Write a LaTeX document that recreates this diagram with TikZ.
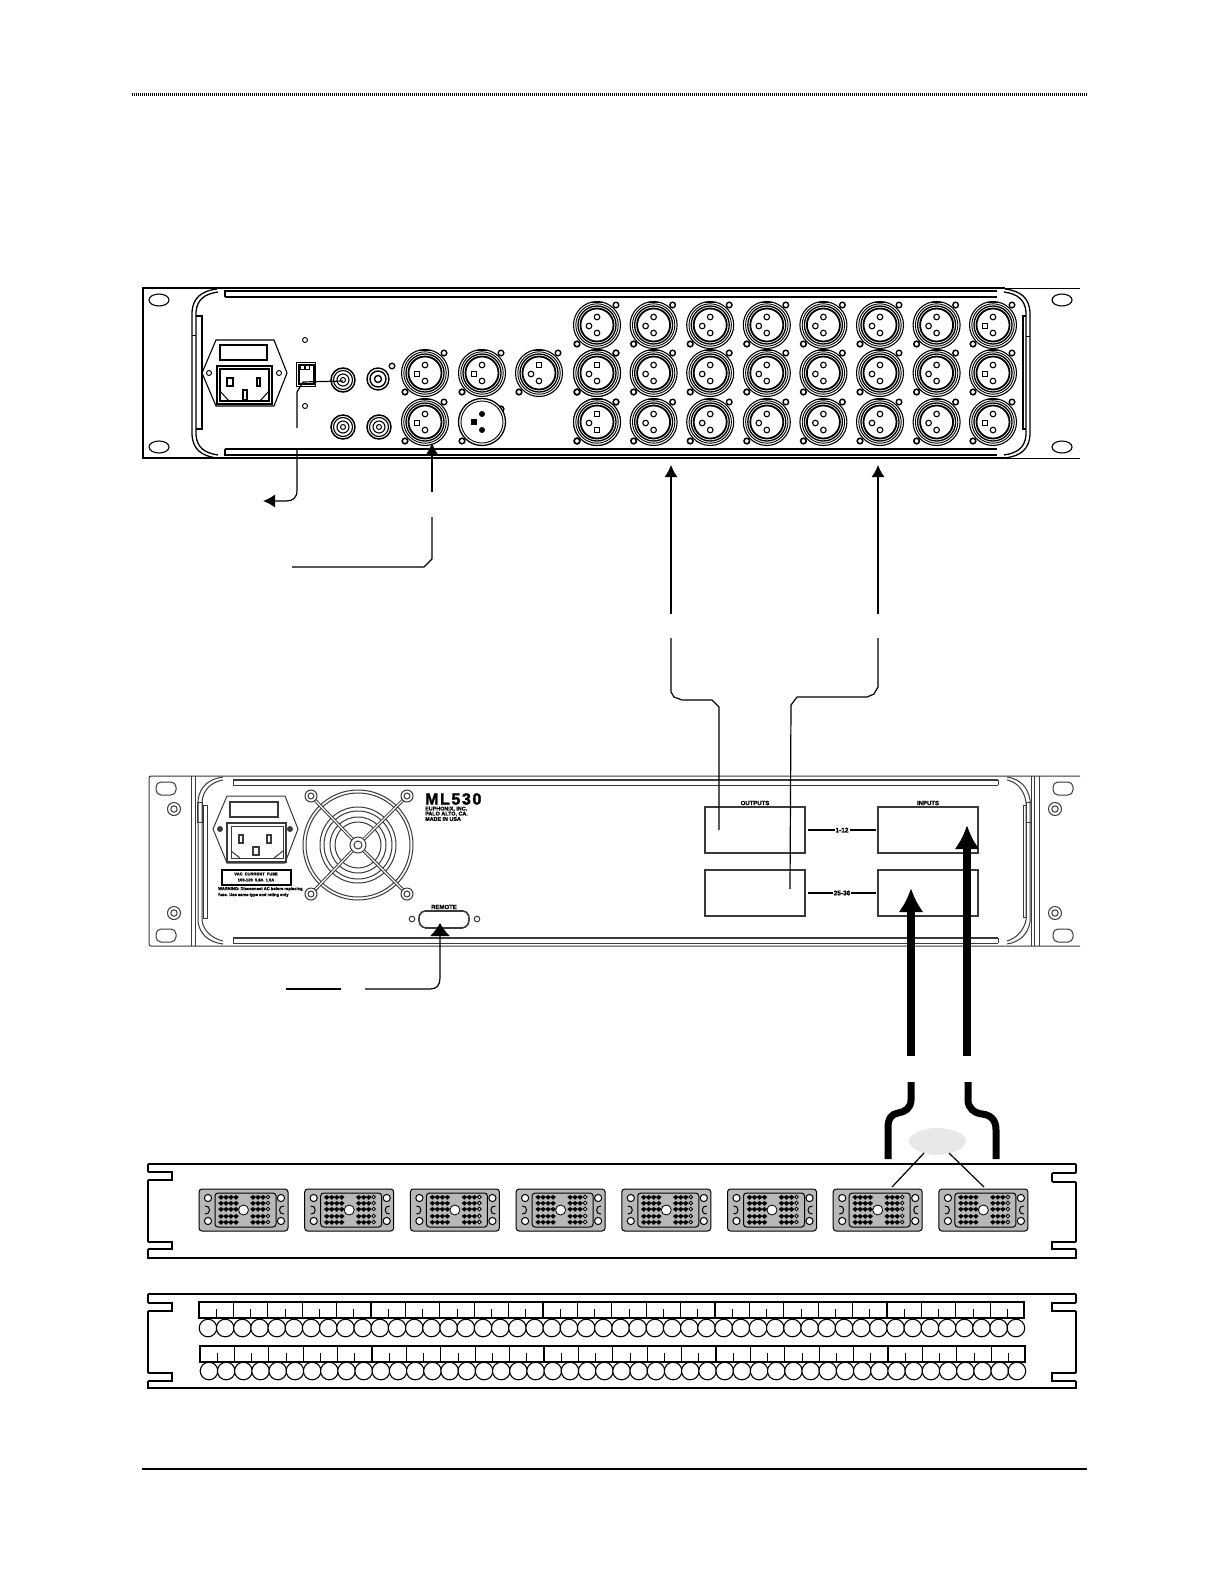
\documentclass[tikz,border=0pt]{standalone}
\usepackage{fontspec}
\setmainfont{Liberation Sans}
\usetikzlibrary{arrows.meta,calc}
\definecolor{panelgray}{HTML}{3A3A3A}
\definecolor{conngray}{HTML}{B8B8B8}
\definecolor{blobgray}{HTML}{E8E8E8}
\newcommand\heavytxt[1]{\fontsize{#1}{#1}\selectfont\bfseries\addfontfeature{FakeBold=1.5}}
\tikzset{
  thinln/.style={line width=0.9pt,black},
  medln/.style={line width=1.4pt,black},
  curveln/.style={line width=1.3pt,black},
  rk/.style={line width=1pt,panelgray},
  leader/.style={line width=1.2pt,black,line join=round},
  leadarrow/.style={leader,-{Latex[length=12pt,width=13pt]}},
  heavy/.style={line width=8pt,black,line join=round},
  heavyarrow/.style={heavy,-{Latex[length=24pt,width=25pt]}},
  patchbox/.style={draw=panelgray,line width=2pt,minimum width=100pt,minimum height=46pt,inner sep=0pt,fill=white},
  tinytxt/.style={font=\heavytxt{6},inner sep=0pt,text=black},
  microtxt/.style={font=\heavytxt{4.1},inner sep=0pt,text=black},
  linklabel/.style={font=\heavytxt{6.5},inner sep=1pt,fill=white},
}
% XLR connector: x, y, top, left, bottom pin (0 round, 1 square, 2 black)
\newcommand\xpin[3]{%
  \ifnum#3=0 \draw[line width=1.1pt,fill=white] (#1,#2) circle (2.8pt);\fi
  \ifnum#3=1 \draw[line width=1.3pt,fill=white] (#1-2.6,#2-2.6) rectangle (#1+2.6,#2+2.6);\fi
  \ifnum#3=2 \fill (#1,#2) circle (3pt);\fi
  \ifnum#3=3 \fill (#1-3,#2-3) rectangle (#1+3,#2+3);\fi}
\newcommand\xlrc[5]{%
  \draw[line width=1.4pt,fill=white] (#1+19,#2-20) circle (2.8pt);
  \draw[line width=1.6pt,fill=white] (#1-20,#2+19) circle (2.8pt);
  \draw[line width=1.1pt,fill=white] (#1,#2) circle (23.5pt);
  \draw[line width=0.9pt] (#1,#2) circle (21.2pt);
  \draw[line width=1.3pt] (#1,#2) circle (19pt);
  \draw[line width=1.8pt] (#1,#2) circle (16.5pt);
  \draw[line width=1.2pt] (#1-7,#2-22.5) -- (#1+7,#2-22.5);
  \xpin{#1}{#2-8}{#3}\xpin{#1-8}{#2+1}{#4}\xpin{#1}{#2+8}{#5}}
\newcommand\bncc[2]{%
  \draw[line width=1.5pt,fill=white] (#1,#2) circle (12pt);
  \draw[line width=1.1pt] (#1,#2) circle (9.5pt);
  \draw[line width=1.1pt] (#1,#2) circle (6pt);
  \draw[line width=1pt] (#1,#2) circle (2.5pt);}
\newcommand\iecsock[2]{% x,y = socket top left, 55 x 38
  \draw[line width=1.2pt] (#1,#2) rectangle +(55,38);
  \draw[line width=1.2pt] (#1+3,#2+3) rectangle +(49,32);
  \draw[line width=1pt] (#1+3,#2+25) -- (#1+12,#2+35) (#1+52,#2+25) -- (#1+43,#2+35);}
% multi-pin connector
\newcommand\connb[1]{%
  \draw[line width=1pt,fill=conngray,rounded corners=3pt] (#1,1189) rectangle +(89,42);
  \draw[line width=1pt,fill=conngray,rounded corners=3pt] (#1+16,1193) rectangle +(61,34);
  \foreach \hx in {9,82}{
    \draw[line width=1pt,fill=white] (#1+\hx,1198) circle (3.6pt);
    \draw[line width=1pt,fill=white] (#1+\hx,1221) circle (3.6pt);}
  \draw[line width=1pt] (#1+6,1206) .. controls (#1+12,1205) and (#1+12,1215) .. (#1+6,1214);
  \draw[line width=1pt] (#1+85,1206) .. controls (#1+79,1205) and (#1+79,1215) .. (#1+85,1214);
  \foreach \px/\col in {22/0,27/3,32/1,37/2,54/0,59/1,64/3,69/2}{
    \foreach \py [count=\ri] in {1197,1203,1209,1216,1222}{
      \pgfmathtruncatemacro\mm{mod(\px+\ri*3+\col,3)}
      \ifnum\mm<2
        \fill (#1+\px-2.8,\py) -- (#1+\px,\py-2) -- (#1+\px+2.8,\py) -- (#1+\px,\py+2.8) -- cycle;
      \else
        \draw[line width=0.9pt,fill=white] (#1+\px,\py) circle (1.8pt);
      \fi}}
  \draw[line width=0.8pt,fill=white] (#1+44.5,1210) circle (5pt);}
% patch strip: x, y of strip top, y of circle centre
\newcommand\jackrow[3]{%
  \draw[line width=1.2pt] (#1,#2) rectangle (#1+825,#2+16);
  \foreach \i in {0,...,23}{
    \pgfmathsetmacro\dx{#1+34.4*\i}
    \pgfmathsetmacro\tx{#1+17.2+34.4*\i}
    \draw[line width=1.3pt] (\dx,#2) -- (\dx,#2+16);
    \draw[line width=1pt] (\tx,#2+7) -- (\tx,#2+16);}
  \foreach \i in {0,...,47}{
    \pgfmathsetmacro\cx{#1+9+17.19*\i}
    \draw[line width=1.1pt,fill=white] (\cx,#3) circle (8.8pt);}}
\begin{document}
\begin{tikzpicture}[x=1pt,y=-1pt]
\useasboundingbox (0,0) rectangle (1224,1584);
\fill[white] (0,0) rectangle (1224,1584);
% page rules
\coordinate (hdA) at (132,95); \coordinate (hdB) at (1087,95);
\draw[line width=3pt,dash pattern=on 1pt off 1pt] (hdA) -- (hdB);
\coordinate (ftA) at (142,1469); \coordinate (ftB) at (1087,1469);
\draw[line width=1.5pt] (ftA) -- (ftB);

% ===== Rack 1 =====
\draw[line width=1.8pt] (1005,288) -- (143,288) -- (143,458) -- (1005,458);
\draw[thinln] (1080,288) -- (1005,288) (1080,458) -- (1005,458);
\draw[line width=1.6pt] (225,297) -- (225,291) -- (997,291) (225,297) -- (997,297);
\draw[line width=1.6pt] (225,449) -- (225,455) -- (997,455) (225,449) -- (997,449);
\foreach \hy in {300,447}{
  \draw[line width=1.1pt] (159,\hy) ellipse (10pt and 6pt);
  \draw[line width=1.1pt] (1062,\hy) ellipse (10pt and 6pt);}
\draw[curveln] (217,289) .. controls (201,291) and (193,298) .. (192,312) -- (192,435) .. controls (193,449) and (201,456) .. (217,458);
\draw[curveln] (218,292) .. controls (204,294) and (197,300) .. (196,312) -- (196,435) .. controls (197,447) and (204,453) .. (218,455);
\draw[medln] (196,316) -- (202,316) -- (202,429) -- (196,429);
\draw[thinln] (192,335) -- (196,335);
\draw[curveln] (1005,289) .. controls (1021,291) and (1029,298) .. (1030,312) -- (1030,435) .. controls (1029,449) and (1021,456) .. (1005,458);
\draw[curveln] (1004,292) .. controls (1018,294) and (1025,300) .. (1026,312) -- (1026,435) .. controls (1025,447) and (1018,453) .. (1004,455);
\draw[medln] (1026,316) -- (1023,316) -- (1023,429) -- (1026,429);
\draw[thinln] (1026,336) -- (1030,336);
% IEC inlet
\draw[line width=1.1pt] (216,340) -- (274,340) -- (287,373) -- (274,406) -- (216,406) -- (202,373) -- cycle;
\draw[line width=1.6pt] (220,345) rectangle (267,360);
\iecsock{217}{366}
\draw[line width=1.2pt] (227,378) rectangle (233,386) (257,378) rectangle (260,386) (243,390) rectangle (247,400);
\draw[thinln] (209,373) circle (2.5pt) (279,373) circle (2.5pt);
% switch
\draw[thinln] (305,340) circle (2.5pt) (305,406) circle (2.5pt);
\draw[line width=1pt] (296,362) rectangle (315,386);
\draw[line width=1.4pt] (299,365) rectangle (314,384);
\draw[line width=0.8pt,fill=white] (300,365) rectangle (304,369) (305,365) rectangle (309,369);
% BNCs
\bncc{343}{380}
\draw[line width=1.4pt] (378,379) circle (11pt) (378,379) circle (8pt) (378,379) circle (3.5pt);
\bncc{343}{427}\bncc{379}{427}
\draw[line width=1.3pt] (392,366) circle (2.8pt);
% sync wire
\coordinate (swA) at (297,428); \coordinate (swB) at (343,381);
\draw[leader] (swA) -- (297,392) -- (303,382) -- (swB);
% audio XLRs
\xlrc{425}{373}{0}{1}{0}\xlrc{482}{373}{0}{1}{0}\xlrc{539}{373}{1}{0}{0}
\xlrc{425}{422}{0}{1}{0}
\draw[line width=1.5pt,fill=white] (501,409) circle (2.8pt);
\draw[line width=1.5pt,fill=white] (462,441) circle (2.8pt);
\draw[line width=1.3pt,fill=white] (482,422) circle (23.5pt);
\draw[line width=0.9pt] (482,422) circle (21pt);
\xpin{482}{414}{2}\xpin{474}{422}{3}\xpin{482}{430}{2}
% 24 XLRs
\foreach \gx in {597,653.6,710.2,766.8,823.4,880,936.6}{
  \foreach \gy in {325,373,422}{
    \xlrc{\gx}{\gy}{0}{0}{0}}}
\xlrc{597}{373}{1}{0}{0}
\xlrc{597}{422}{1}{0}{1}
\foreach \gy in {325,373,422}{\xlrc{993}{\gy}{0}{1}{0}}

% ===== Rack 2 =====
\draw[rk] (1080,776) -- (152,776) [rounded corners=2pt] -- (149,776) -- (149,946) -- (1080,946);
\draw[rk] (233,780) -- (998,780) (233,785) -- (998,785) (233,780) -- (233,785) (998,780) -- (998,785);
\draw[line width=1.6pt,panelgray] (233,780) -- (998,780);
\draw[rk] (233,938) -- (998,938) (233,943) -- (998,943) (233,938) -- (233,943) (998,938) -- (998,943);
\draw[line width=1.6pt,panelgray] (233,938) -- (998,938);
\draw[rk] (191,776) -- (191,946) (195,776) -- (195,946);
\draw[rk] (1031,776) -- (1031,946) (1034,776) -- (1034,946) (1039,776) -- (1039,946);
\draw[rk] (223,777) .. controls (208,779) and (200,787) .. (198,800) -- (198,922) .. controls (200,934) and (208,942) .. (223,944);
\draw[rk] (223,780) .. controls (211,782) and (203,790) .. (202,802) -- (202,920) .. controls (203,930) and (211,938) .. (223,941);
\draw[rk] (1007,777) .. controls (1020,779) and (1028,787) .. (1030,800) -- (1030,922) .. controls (1028,934) and (1020,942) .. (1007,944);
\draw[rk] (1007,780) .. controls (1017,782) and (1024,790) .. (1026,802) -- (1026,920) .. controls (1024,930) and (1017,938) .. (1007,941);
\draw[rk] (203,805) rectangle (207,918) (197,802) rectangle (202,822);
\draw[rk] (1023,805) rectangle (1026,917) (1026,802) rectangle (1031,822);
\foreach \hx in {166,1063}{
  \draw[rk,rounded corners=5pt] (\hx-10,782) rectangle (\hx+10,795);
  \draw[rk,rounded corners=5pt] (\hx-10,929) rectangle (\hx+10,942);}
\foreach \hx in {174,1055}{
  \foreach \hy in {809,913}{
    \draw[rk] (\hx,\hy) circle (6.5pt) (\hx,\hy) circle (3.2pt);}}
% IEC inlet
\begin{scope}[panelgray]
\draw[rk] (227,796) -- (285,796) -- (298,829) -- (285,863) -- (227,863) -- (213,829) -- cycle;
\draw[line width=1.4pt] (230,802) rectangle (278,817);
\draw[line width=1.6pt] (227,823) rectangle (286,862);
\draw[rk] (231,826) rectangle (283,858);
\draw[line width=1pt] (231,851) -- (240,858) (283,851) -- (274,858);
\draw[line width=1.2pt] (239,835) rectangle (243,843) (267,835) rectangle (271,843) (253,847) rectangle (259,855);
\fill (220,829) circle (3pt) (290,829) circle (3pt);
% fan
\foreach \rr in {55,52,38,34,28,23}{\draw[line width=1pt] (358,845) circle (\rr pt);}
\foreach \cx/\cy in {311/796,407/796,311/894,407/894}{
  \draw[line width=3.2pt] (\cx,\cy) -- (358,845);
  \draw[line width=1.2pt,white] (\cx,\cy) -- (358,845);}
\draw[line width=1pt,fill=white] (358,845) circle (8pt);
\draw[line width=1pt,fill=white] (358,845) circle (4pt);
\foreach \cx/\cy in {311/796,407/796,311/894,407/894}{
  \draw[line width=1pt,fill=white] (\cx,\cy) circle (6pt);
  \draw[line width=1pt] (\cx,\cy) circle (3pt);}
\end{scope}
% rating label
\draw[line width=1.6pt] (222,870) rectangle (291,885);
\node[microtxt] (ratA) at (256,874) {VAC\enspace CURRENT\enspace FUSE};
\node[microtxt] (ratB) at (256,880) {100-120\enspace 0.8A\enspace 1.0A};
\node[microtxt,anchor=west] (warnA) at (218,889) {WARNING: Disconnect AC before replacing};
\node[microtxt,anchor=west] (warnB) at (218,895) {fuse. Use same type and rating only};
% model text
\node[anchor=west,inner sep=0pt,font=\fontsize{16}{16}\selectfont\bfseries\addfontfeature{LetterSpace=10,FakeBold=2}] (model) at (425,799) {ML530};
\node[tinytxt,anchor=west,font=\heavytxt{5.4}] (mkA) at (425,809) {EUPHONIX, INC.};
\node[tinytxt,anchor=west,font=\heavytxt{5.4}] (mkB) at (425,814) {PALO ALTO, CA.};
\node[tinytxt,anchor=west,font=\heavytxt{5.4}] (mkC) at (425,819) {MADE IN USA};
% D-sub
\draw[line width=1.6pt,panelgray,rounded corners=4pt] (421,911) -- (467,911) -- (470,920) -- (466,928) -- (422,928) -- (418,920) -- cycle;
\draw[rk] (412,919) circle (2.8pt) (477,919) circle (2.8pt);
\node[tinytxt] (remote) at (444,907) {REMOTE};
% patch boxes
\node[patchbox] (outA) at (755,830) {};
\node[patchbox] (outB) at (755,893) {};
\node[patchbox] (inA) at (928,830) {};
\node[patchbox] (inB) at (928,893) {};
\node[tinytxt] (outLab) at (755,803) {OUTPUTS};
\node[tinytxt] (inLab) at (928,803) {INPUTS};
\draw[line width=2pt] (outA.east) ++(2,0) -- ($(inA.west)+(-1,0)$) node[midway,linklabel] (lkA) {1-12};
\draw[line width=2pt] (outB.east) ++(2,0) -- ($(inB.west)+(-1,0)$) node[midway,linklabel] (lkB) {25-36};

% ===== Leaders =====
\coordinate (pwrA) at (297,450);
\coordinate (pwrB) at (263,501);
\draw[leadarrow] (pwrA) -- (297,490) .. controls (297,498) and (293,501) .. (286,501) -- (pwrB);
\coordinate (syA) at (292,567);
\coordinate (syB) at (432,517);
\coordinate (syC) at (432,492);
\coordinate (syD) at (432,443);
\draw[leader] (syA) -- (424,567) -- (432,559) -- (syB);
\draw[leadarrow] (syC) -- (syD);
\coordinate (oaT) at (671,465); \coordinate (oaM) at (671,614); \coordinate (oaN) at (671,638); \coordinate (oaE) at (719,830);
\draw[leadarrow] (oaM) -- (oaT);
\draw[leader] (oaN) -- (671,692) -- (674,697) -- (682,700) -- (712,700) -- (719,707) -- (oaE);
\coordinate (obT) at (878,465); \coordinate (obM) at (878,614); \coordinate (obN) at (878,638); \coordinate (obE) at (790,889);
\draw[leadarrow] (obM) -- (obT);
\draw[leader] (obN) -- (878,687) -- (874,694) -- (867,697) -- (797,697) -- (791,705) -- (obE);
\coordinate (rmA) at (286,989); \coordinate (rmB) at (341,989); \coordinate (rmC) at (365,989); \coordinate (rmD) at (440,923);
\draw[leader] (rmA) -- (rmB);
\draw[leader,-{Latex[length=13pt,width=20pt]}] (rmC) -- (430,989) .. controls (437,989) and (440,985) .. (440,978) -- (rmD);

% heavy cables
\coordinate (hvA) at (911,888); \coordinate (hvB) at (967,825);
\coordinate (hvAu) at (911,1056); \coordinate (hvBu) at (967,1056);
\draw[heavyarrow] (hvAu) -- (hvA);
\draw[heavyarrow] (hvBu) -- (hvB);
\coordinate (hvC) at (911,1082); \coordinate (hvD) at (888,1159);
\coordinate (hvE) at (968,1082); \coordinate (hvF) at (996,1159);
\draw[heavy,line width=7pt] (hvC) -- (911,1100) .. controls (911,1108) and (905,1112) .. (898,1113) .. controls (891,1114) and (888,1119) .. (888,1128) -- (hvD);
\draw[heavy,line width=7pt] (hvE) -- (968,1100) .. controls (968,1108) and (974,1113) .. (982,1114) .. controls (991,1115) and (996,1120) .. (996,1130) -- (hvF);

% ===== Rack 3 =====
\draw[line width=1.8pt] (148,1164) -- (1076,1164);
\draw[line width=1.1pt] (148,1164) -- (148,1172) (148,1180) -- (148,1242) (148,1249) -- (148,1258) -- (1076,1258) -- (1076,1249) (1076,1242) -- (1076,1182) (1076,1173) -- (1076,1164);
\draw[line width=1.6pt] (148,1172) -- (172,1172) -- (172,1180) -- (148,1180);
\draw[line width=1.6pt] (148,1242) -- (172,1242) -- (172,1249) -- (148,1249);
\draw[line width=1.6pt] (1076,1173) -- (1054,1173) [rounded corners=1pt] -- (1052,1173) -- (1052,1182) -- (1076,1182);
\draw[line width=1.6pt] (1076,1242) -- (1052,1242) -- (1052,1249) -- (1076,1249);
\foreach \k in {0,...,7}{
  \pgfmathsetmacro\kx{199+105.7*\k}
  \connb{\kx}}
% cable label blob
\fill[blobgray] (909,1141) .. controls (909,1133) and (925,1128) .. (937,1128) .. controls (950,1128) and (966,1133) .. (966,1141) .. controls (966,1149) and (950,1155) .. (937,1155) .. controls (925,1155) and (909,1149) .. (909,1141) -- cycle;
\coordinate (blA) at (924,1153); \coordinate (blB) at (892,1187);
\coordinate (blC) at (949,1153); \coordinate (blD) at (984,1187);
\draw[leader] (blA) -- (blB);
\draw[leader] (blC) -- (blD);

% ===== Rack 4 =====
\draw[line width=1.1pt] (148,1294) -- (1076,1294);
\draw[line width=1.1pt] (148,1294) -- (148,1303) (148,1311) -- (148,1373) (148,1381) -- (148,1388) -- (1076,1388) -- (1076,1381) (1076,1373) -- (1076,1311) (1076,1303) -- (1076,1294);
\draw[line width=1.6pt] (148,1303) -- (172,1303) -- (172,1311) -- (148,1311);
\draw[line width=1.6pt] (148,1373) -- (172,1373) -- (172,1381) -- (148,1381);
\draw[line width=1.6pt] (1076,1303) -- (1052,1303) -- (1052,1311) -- (1076,1311);
\draw[line width=1.6pt] (1076,1373) -- (1052,1373) -- (1052,1381) -- (1076,1381);
\jackrow{199}{1302}{1328}
\jackrow{200}{1346}{1371}
\end{tikzpicture}
\end{document}
